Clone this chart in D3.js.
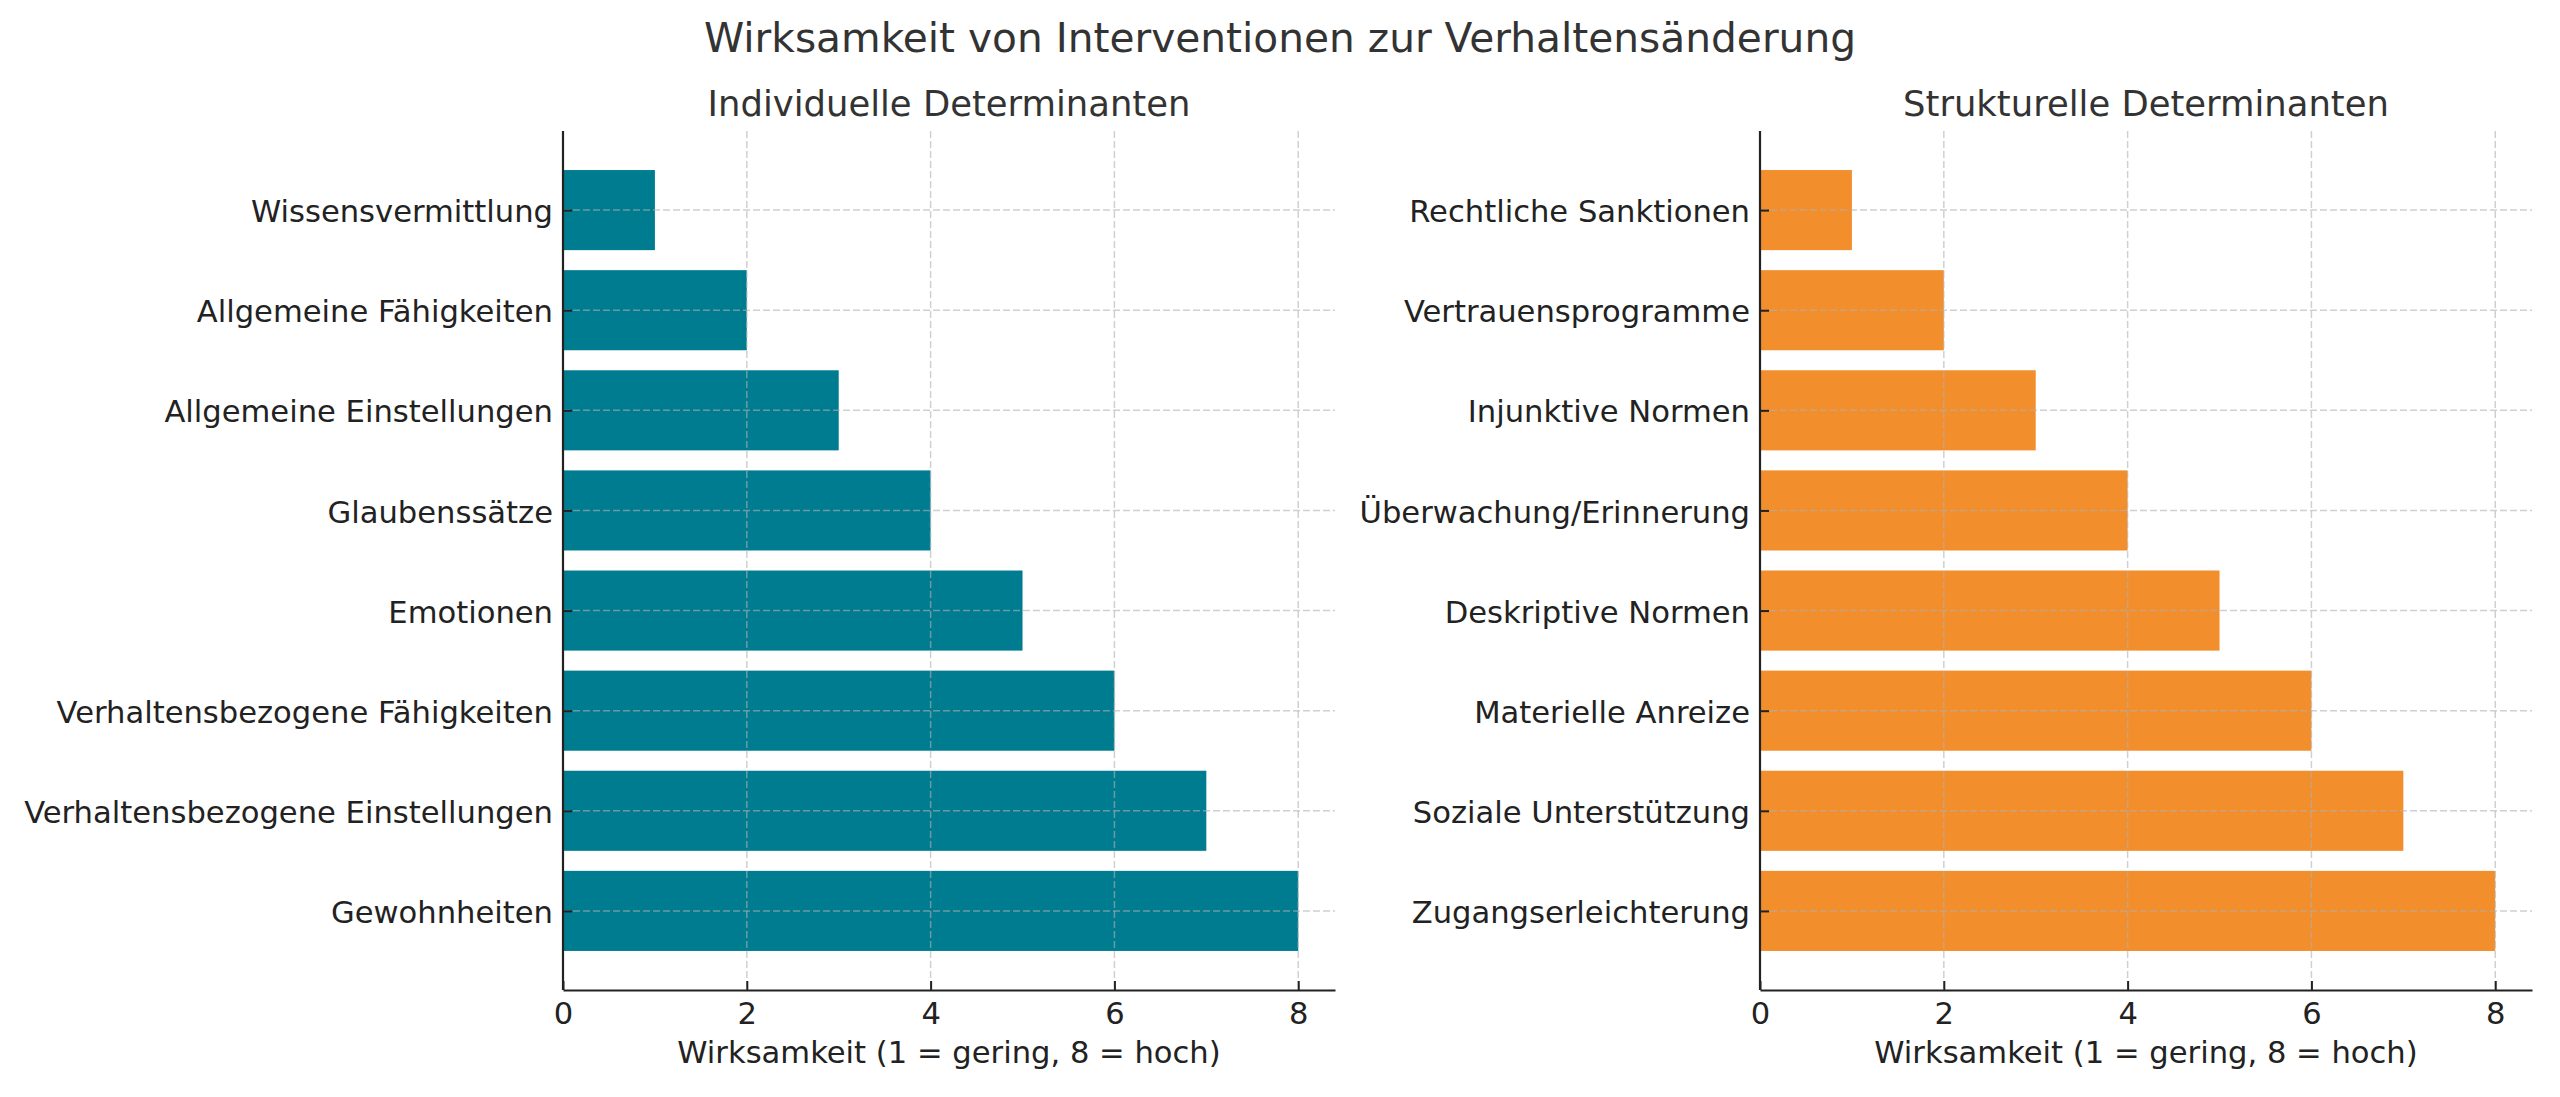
<!DOCTYPE html>
<html>
<head>
<meta charset="utf-8">
<script src="https://cdn.jsdelivr.net/npm/d3@7"></script>
<style>
  body { margin: 0; background: #fff; }
  svg { font-family: "DejaVu Sans", sans-serif; }
</style>
</head>
<body>
<div id="chart"></div>
<script>
// data, top to bottom
var individualLabels = ['Wissensvermittlung', 'Allgemeine Fähigkeiten', 'Allgemeine Einstellungen', 'Glaubenssätze',
  'Emotionen', 'Verhaltensbezogene Fähigkeiten', 'Verhaltensbezogene Einstellungen', 'Gewohnheiten'];
var individualValues = [1, 2, 3, 4, 5, 6, 7, 8];
var structuralLabels = ['Rechtliche Sanktionen', 'Vertrauensprogramme', 'Injunktive Normen', 'Überwachung/Erinnerung',
  'Deskriptive Normen', 'Materielle Anreize', 'Soziale Unterstützung', 'Zugangserleichterung'];
var structuralValues = [1, 2, 3, 4, 5, 6, 7, 8];
var xTicks = [0, 2, 4, 6, 8];

var mainTitle = 'Wirksamkeit von Interventionen zur Verhaltensänderung';
var xLabel = 'Wirksamkeit (1 = gering, 8 = hoch)';

var W = 2560, H = 1097;
var plotTop = 131, plotBottom = 990;

var svg = d3.select('#chart').append('svg')
  .attr('width', W)
  .attr('height', H);

svg.append('text')
  .attr('x', 1280)
  .attr('y', 52)
  .attr('text-anchor', 'middle')
  .attr('font-size', 40.7)
  .attr('fill', '#333')
  .text(mainTitle);

function drawPanel(left, right, title, labels, values, color) {
  var x = d3.scaleLinear().domain([0, 8.4]).range([left, right]);
  var y = d3.scalePoint().domain(labels).range([plotTop, plotBottom]).padding(0.79);
  var barH = y.step() * 0.8;

  var g = svg.append('g');

  g.append('text')
    .attr('x', (left + right) / 2)
    .attr('y', 116)
    .attr('text-anchor', 'middle')
    .attr('font-size', 35.4)
    .attr('fill', '#333')
    .text(title);

  g.selectAll('.bar')
    .data(labels)
    .enter().append('rect')
      .attr('class', 'bar')
      .attr('x', x(0))
      .attr('y', function(d) { return y(d) - barH / 2; })
      .attr('width', function(d, i) { return x(values[i]) - x(0); })
      .attr('height', barH)
      .attr('fill', color);

  // grid over the bars, like the original
  g.selectAll('.vgrid')
    .data(xTicks)
    .enter().append('line')
      .attr('x1', function(d) { return x(d); })
      .attr('x2', function(d) { return x(d); })
      .attr('y1', plotTop)
      .attr('y2', plotBottom)
      .attr('stroke', '#b0b0b0')
      .attr('stroke-opacity', 0.6)
      .attr('stroke-width', 1.5)
      .attr('stroke-dasharray', '7,3');

  g.selectAll('.hgrid')
    .data(labels)
    .enter().append('line')
      .attr('x1', left)
      .attr('x2', right)
      .attr('y1', function(d) { return y(d); })
      .attr('y2', function(d) { return y(d); })
      .attr('stroke', '#b0b0b0')
      .attr('stroke-opacity', 0.6)
      .attr('stroke-width', 1.5)
      .attr('stroke-dasharray', '7,3');

  var xAxis = g.append('g')
    .attr('transform', 'translate(0,' + plotBottom + ')')
    .call(d3.axisBottom(x).tickValues(xTicks).tickSize(-9).tickPadding(14).tickSizeOuter(0));
  xAxis.select('.domain').attr('stroke', '#222').attr('stroke-width', 2.2);
  xAxis.selectAll('.tick line').attr('stroke', '#222').attr('stroke-width', 2);
  xAxis.selectAll('.tick text')
    .attr('font-size', 30.6)
    .attr('font-family', '"DejaVu Sans", sans-serif')
    .attr('fill', '#222')
    .attr('dy', '0.71em')
    .attr('y', 12);

  var yAxis = g.append('g')
    .attr('transform', 'translate(' + left + ',0)')
    .call(d3.axisLeft(y).tickSize(-9).tickPadding(10).tickSizeOuter(0));
  yAxis.select('.domain')
    .attr('d', 'M0,' + plotTop + 'V' + plotBottom)
    .attr('stroke', '#222').attr('stroke-width', 2.2);
  yAxis.selectAll('.tick line').attr('stroke', '#222').attr('stroke-width', 2);
  yAxis.selectAll('.tick text')
    .attr('font-size', 30.6)
    .attr('font-family', '"DejaVu Sans", sans-serif')
    .attr('fill', '#222')
    .attr('dy', '0.38em')
    .attr('x', -10);

  g.append('text')
    .attr('x', (left + right) / 2)
    .attr('y', 1063)
    .attr('text-anchor', 'middle')
    .attr('font-size', 30.6)
    .attr('fill', '#222')
    .text(xLabel);
}

drawPanel(563, 1335, 'Individuelle Determinanten', individualLabels, individualValues, '#007c91');
drawPanel(1760, 2532, 'Strukturelle Determinanten', structuralLabels, structuralValues, '#f28e2b');
</script>
</body>
</html>
